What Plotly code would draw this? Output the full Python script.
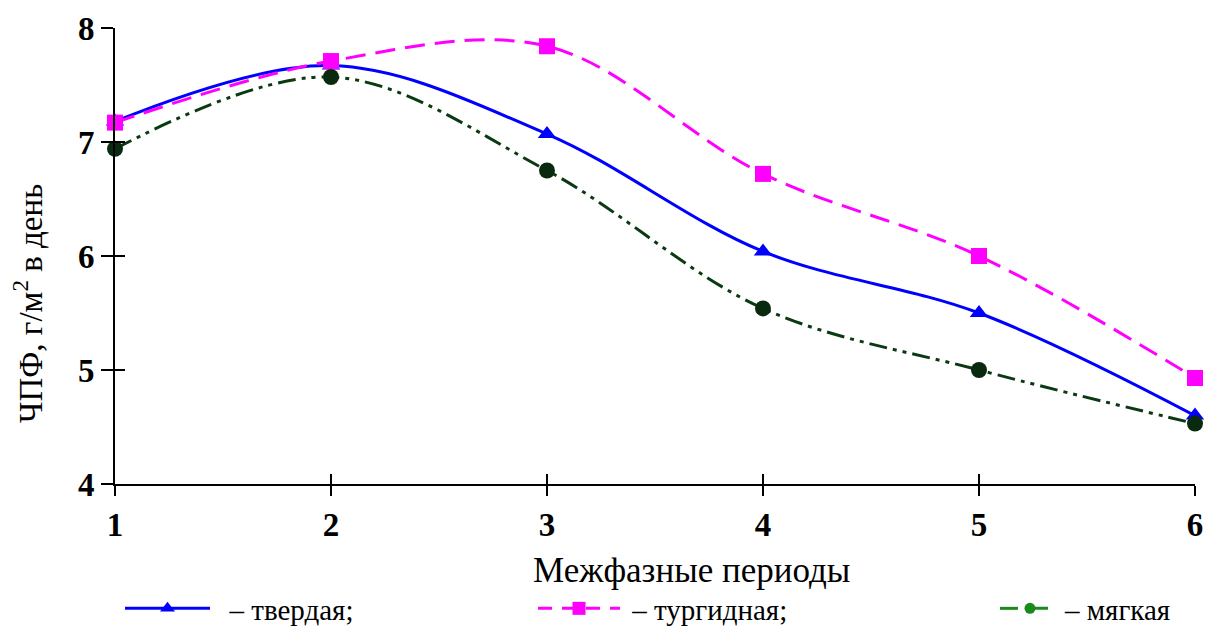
import plotly.graph_objects as go

periods = [1, 2, 3, 4, 5, 6]
tverdaya = [7.18, 7.67, 7.07, 6.04, 5.50, 4.60]
turgidnaya = [7.17, 7.71, 7.84, 6.72, 6.00, 4.93]
myagkaya = [6.94, 7.57, 6.75, 5.54, 5.00, 4.53]
y_ticks = [4, 5, 6, 7, 8]
x_ticks = [1, 2, 3, 4, 5, 6]

FONT = "Times New Roman"
NB = "\u00a0"
fig = go.Figure()

fig.add_trace(go.Scatter(x=periods, y=tverdaya, mode="lines+markers", line=dict(color="#0000ff", width=3, shape="spline", smoothing=1),
                         marker=dict(symbol="triangle-up", size=16, color="#0000ff"), cliponaxis=False, showlegend=False))
fig.add_trace(go.Scatter(x=periods, y=turgidnaya, mode="lines+markers", line=dict(color="#ff00ff", width=3, shape="spline", smoothing=1, dash="20px,10px"),
                         marker=dict(symbol="square", size=16, color="#ff00ff"), cliponaxis=False, showlegend=False))
fig.add_trace(go.Scatter(x=periods, y=myagkaya, mode="lines+markers", line=dict(color="#0b3a12", width=3, shape="spline", smoothing=1, dash="18px,6px,4px,6px,4px,6px"),
                         marker=dict(symbol="circle", size=16, color="#0a2a0f"), cliponaxis=False, showlegend=False))

# legend-only entries
fig.add_trace(go.Scatter(x=[None], y=[None], mode="lines+markers", name=NB * 2 + "– твердая;", line=dict(color="#0000ff", width=3),
                         marker=dict(symbol="triangle-up", size=13, color="#0000ff"), legend="legend"))
fig.add_trace(go.Scatter(x=[None], y=[None], mode="lines+markers", name=NB + "– тургидная;", line=dict(color="#ff00ff", width=3, dash="14px,10px"),
                         marker=dict(symbol="square", size=13, color="#ff00ff"), legend="legend2"))
fig.add_trace(go.Scatter(x=[None], y=[None], mode="lines+markers", name="– мягкая", line=dict(color="#1a8a1a", width=3, dash="18px,12px"),
                         marker=dict(symbol="circle", size=11, color="#1a8a1a"), legend="legend3"))

leg_common = dict(orientation="h", yanchor="bottom", y=-(634 - 484) / 456.0, xanchor="left",
                  font=dict(family=FONT, size=29, color="black"), bgcolor="rgba(0,0,0,0)", itemclick=False)
W = 1080.0
fig.update_layout(
    legend=dict(x=(120 - 115) / W, itemwidth=85, **leg_common),
    legend2=dict(x=(533 - 115) / W, itemwidth=82, **leg_common),
    legend3=dict(x=(995 - 115) / W, itemwidth=60, **leg_common),
)

fig.update_layout(
    width=1206, height=634,
    margin=dict(l=115, r=11, t=28, b=150, autoexpand=False),
    plot_bgcolor="white", paper_bgcolor="white",
    font=dict(family=FONT, color="black"),
    xaxis=dict(range=[1, 6], tickvals=x_ticks, showgrid=False, zeroline=False, showline=True, linecolor="black", linewidth=2,
               ticks="outside", ticklen=10, tickwidth=2, tickcolor="black",
               tickfont=dict(family=FONT, size=33, color="black", weight="bold")),
    yaxis=dict(range=[4, 8], tickvals=y_ticks, showgrid=False, zeroline=False, showline=True, linecolor="black", linewidth=2,
               ticks="outside", ticklen=12, tickwidth=2, tickcolor="black",
               tickfont=dict(family=FONT, size=33, color="black", weight="bold")),
    xaxis2=dict(range=[1, 6], tickvals=x_ticks, overlaying="x", showgrid=False, zeroline=False, showticklabels=False,
                ticks="inside", ticklen=10, tickwidth=2, tickcolor="black"),
    yaxis2=dict(range=[4, 8], tickvals=y_ticks, overlaying="y", showgrid=False, zeroline=False, showticklabels=False,
                ticks="inside", ticklen=10, tickwidth=2, tickcolor="black"),
    annotations=[
        dict(text="Межфазные периоды", xref="paper", yref="paper", x=(691 - 115) / W, y=-(570 - 484) / 456.0,
             xanchor="center", yanchor="middle", showarrow=False, font=dict(family=FONT, size=35, color="black")),
        dict(text="ЧПФ, г/м<sup>2</sup> в день", xref="paper", yref="paper", x=-(115 - 28) / W, y=(484 - 304) / 456.0,
             xanchor="center", yanchor="middle", textangle=-90, showarrow=False, font=dict(family=FONT, size=33, color="black")),
    ],
)
fig.add_trace(go.Scatter(x=[None], y=[None], xaxis="x2", yaxis="y2", showlegend=False))

fig.write_html("out.html")
